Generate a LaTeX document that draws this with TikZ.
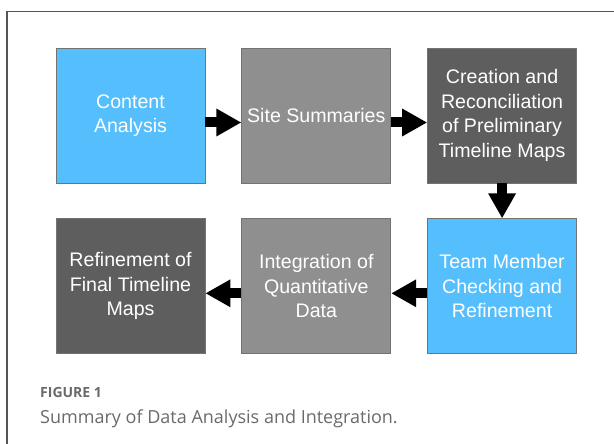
\documentclass[tikz,border=0pt]{standalone}
\usepackage{fontspec}
\setmainfont{Liberation Sans}
\newfontfamily\capfont{Open Sans}
\usetikzlibrary{positioning,arrows.meta}

\definecolor{stepblue}{HTML}{55BFFD}
\definecolor{stepgray}{HTML}{8F8F8F}
\definecolor{stepdark}{HTML}{5E5E5E}
\definecolor{framegray}{HTML}{555555}
\definecolor{captiongray}{HTML}{6A6A6A}

\tikzset{
  stepbox/.style={draw=black!55, line width=0.8pt, minimum width=149pt, minimum height=135pt,
    inner sep=0pt, align=center, text=white, font=\fontsize{19.6}{24.4}\selectfont},
  blockarrow/.style={line width=10pt, -{Triangle[length=25pt,width=26pt]}},
}

\begin{document}
\begin{tikzpicture}[x=1pt,y=-1pt]
  \useasboundingbox (0,0) rectangle (614,444);
  % frame round the figure
  \draw[framegray, line width=1.4pt] (7,444) -- (7,11.5) -- (614,11.5);

  % top row, left to right
  \node[stepbox, fill=stepblue] (content) at (130.5,115.5) {Content\\Analysis};
  \node[stepbox, fill=stepgray, right=36pt of content] (site) {Site Summaries};
  \node[stepbox, fill=stepdark, right=36pt of site] (creation) {Creation and\\Reconciliation\\of Preliminary\\Timeline Maps};
  % bottom row, right to left
  \node[stepbox, fill=stepblue, below=35pt of creation] (team) {Team Member\\Checking and\\Refinement};
  \node[stepbox, fill=stepgray, left=36pt of team] (quant) {Integration of\\Quantitative\\Data};
  \node[stepbox, fill=stepdark, left=36pt of quant] (final) {Refinement of\\Final Timeline\\Maps};

  \draw[blockarrow] ([yshift=-7pt]content.east) -- ([yshift=-7pt]site.west);
  \draw[blockarrow] ([yshift=-7pt]site.east) -- ([yshift=-7pt]creation.west);
  \draw[blockarrow] (creation.south) -- (team.north);
  \draw[blockarrow] ([yshift=-7pt]team.west) -- ([yshift=-7pt]quant.east);
  \draw[blockarrow] ([yshift=-7pt]quant.west) -- ([yshift=-7pt]final.east);

  % caption
  \node[anchor=west, inner sep=0pt, text=captiongray, font=\capfont\fontsize{14}{16}\selectfont\bfseries] (fig) at (40,392) {FIGURE 1};
  \node[anchor=north west, inner sep=0pt, text=captiongray, font=\capfont\fontsize{18}{22}\selectfont] (cap) at (40,410) {Summary of Data Analysis and Integration.};
\end{tikzpicture}
\end{document}
